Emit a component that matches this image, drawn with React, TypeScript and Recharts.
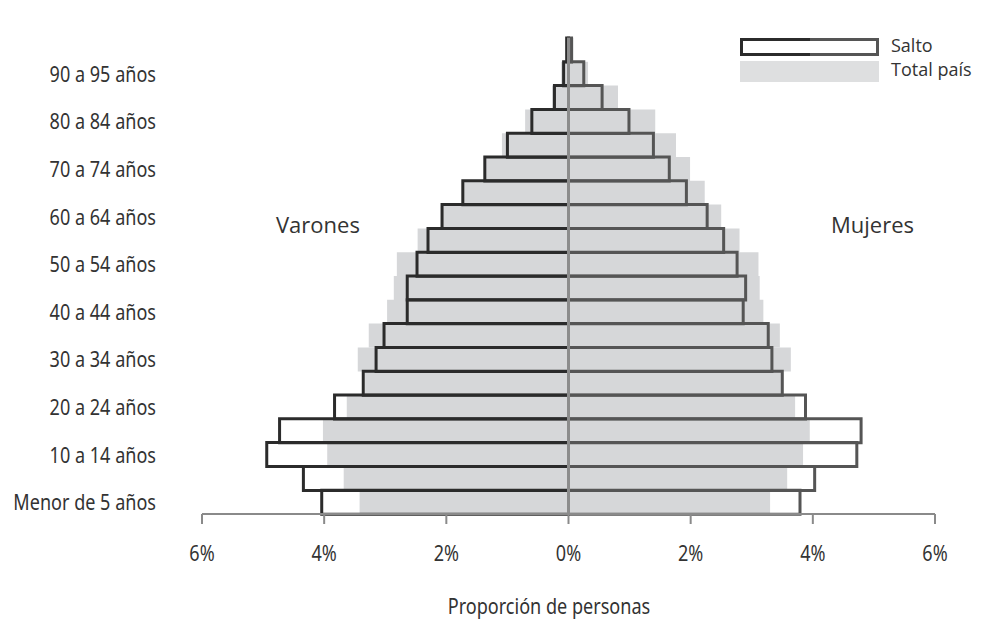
import React from "react";
import { BarChart, Bar, XAxis, YAxis, ReferenceLine } from "recharts";

// age groups, bottom (youngest) to top
const ageGroups = [
  "0-4", "5-9", "10-14", "15-19", "20-24", "25-29", "30-34", "35-39", "40-44", "45-49",
  "50-54", "55-59", "60-64", "65-69", "70-74", "75-79", "80-84", "85-89", "90-94", "95+",
];

const yLabels = [
  "Menor de 5 años", "", "10 a 14 años", "", "20 a 24 años", "", "30 a 34 años", "",
  "40 a 44 años", "", "50 a 54 años", "", "60 a 64 años", "", "70 a 74 años", "",
  "80 a 84 años", "", "90 a 95 años", "",
];

// % of population
const saltoVarones = [4.04, 4.34, 4.94, 4.73, 3.83, 3.36, 3.15, 3.02, 2.64, 2.64, 2.48, 2.3, 2.07, 1.73, 1.37, 1.0, 0.6, 0.23, 0.08, 0.03];
const saltoMujeres = [3.79, 4.03, 4.72, 4.79, 3.88, 3.5, 3.33, 3.27, 2.86, 2.9, 2.76, 2.54, 2.27, 1.93, 1.65, 1.39, 0.99, 0.55, 0.25, 0.05];
const totalVarones = [3.42, 3.68, 3.95, 4.02, 3.63, 3.33, 3.45, 3.27, 2.97, 2.86, 2.81, 2.47, 2.09, 1.75, 1.38, 1.09, 0.71, 0.27, 0.12, 0.03];
const totalMujeres = [3.3, 3.58, 3.84, 3.95, 3.71, 3.48, 3.64, 3.46, 3.19, 3.13, 3.11, 2.8, 2.5, 2.23, 1.99, 1.76, 1.42, 0.81, 0.32, 0.08];

const xTicks = [-6, -4, -2, 0, 2, 4, 6];

const data = ageGroups.map((age, i) => ({
  age,
  totalV: -totalVarones[i],
  totalM: totalMujeres[i],
  saltoV: -saltoVarones[i],
  saltoM: saltoMujeres[i],
}));

const SANS = "'Open Sans', sans-serif";
const NARROW = "'Noto Sans', sans-serif";
const SQUEEZE = 0.86; // no condensed face installed, so squeeze the glyphs
const GREY = "#d6d7d9";
const TEXT = "#333";

function YTick(props: any) {
  const { x, y, index } = props;
  return (
    <text
      transform={`translate(${x} ${y}) scale(${SQUEEZE} 1)`}
      textAnchor="end"
      dominantBaseline="central"
      fill={TEXT}
      fontSize={21}
      fontFamily={NARROW}
    >
      {yLabels[index]}
    </text>
  );
}

function XTick(props: any) {
  const { x, y, payload } = props;
  return (
    <text
      transform={`translate(${x} ${y}) scale(${SQUEEZE} 1)`}
      textAnchor="middle"
      dy="0.71em"
      fill={TEXT}
      fontSize={21}
      fontFamily={NARROW}
    >
      {`${Math.abs(payload.value)}%`}
    </text>
  );
}

export default function App() {
  return (
    <div style={{ position: "absolute", left: 0, top: 0, width: 981, height: 634, background: "#fff", overflow: "hidden" }}>
      <BarChart
        width={981}
        height={634}
        data={data}
        layout="vertical"
        stackOffset="sign"
        barCategoryGap={0}
        barGap={0}
        margin={{ top: 38, right: 46, bottom: 0, left: 0 }}
      >
        <XAxis
          type="number"
          domain={[-6, 6]}
          ticks={xTicks}
          axisLine={{ stroke: "#8a8a8a", strokeWidth: 2 }}
          tickLine={{ stroke: "#8a8a8a", strokeWidth: 2 }}
          tickSize={10}
          tickMargin={22}
          tick={<XTick />}
          height={120}
        />
        <YAxis
          type="category"
          dataKey="age"
          reversed
          width={202}
          interval={0}
          axisLine={false}
          tickLine={false}
          tickMargin={40}
          tick={<YTick />}
        />
        <YAxis yAxisId="s" type="category" dataKey="age" reversed hide width={202} />
        <Bar dataKey="totalV" stackId="t" fill={GREY} isAnimationActive={false} />
        <Bar dataKey="totalM" stackId="t" fill={GREY} isAnimationActive={false} />
        <Bar dataKey="saltoV" yAxisId="s" stackId="s" fill="none" stroke="#2b2b2b" strokeWidth={3} isAnimationActive={false} />
        <Bar dataKey="saltoM" yAxisId="s" stackId="s" fill="none" stroke="#555" strokeWidth={3} isAnimationActive={false} />
        <ReferenceLine x={0} stroke="#8c8c8c" strokeWidth={3} />
      </BarChart>

      <div style={{ position: "absolute", left: 276, top: 209, fontFamily: SANS, fontSize: 22, color: TEXT }}>Varones</div>
      <div style={{ position: "absolute", left: 831, top: 209, fontFamily: SANS, fontSize: 22, color: TEXT }}>Mujeres</div>
      <div
        style={{
          position: "absolute", left: 349, width: 400, top: 592, textAlign: "center",
          fontFamily: NARROW, fontSize: 21, color: TEXT, whiteSpace: "nowrap",
          transform: `scaleX(${SQUEEZE})`,
        }}
      >
        Proporción de personas
      </div>

      <svg style={{ position: "absolute", left: 738, top: 36 }} width={146} height={50}>
        <path d="M72 3.5 H3.5 V18.5 H72" fill="none" stroke="#2b2b2b" strokeWidth={3} />
        <path d="M72 3.5 H139.5 V18.5 H72" fill="none" stroke="#555" strokeWidth={3} />
        <rect x={2} y={25} width={139} height={21} fill="#dedfe0" />
      </svg>
      <div style={{ position: "absolute", left: 891, top: 33, fontFamily: SANS, fontSize: 18, color: TEXT, lineHeight: "24px", whiteSpace: "nowrap" }}>
        Salto
        <br />
        Total país
      </div>
    </div>
  );
}
